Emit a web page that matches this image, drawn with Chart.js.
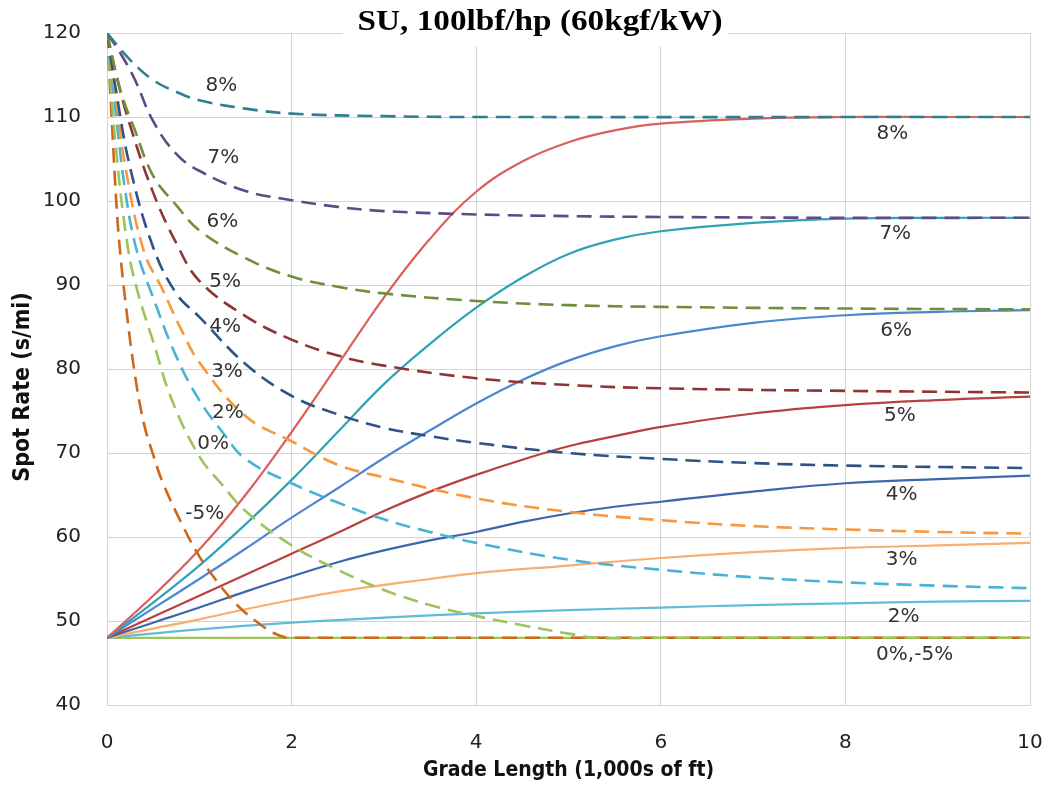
<!DOCTYPE html>
<html>
<head>
<meta charset="utf-8">
<script src="https://cdn.jsdelivr.net/npm/chart.js@4.4.1/dist/chart.umd.min.js"></script>
<style>
  html, body { margin: 0; padding: 0; background: #fff; }
  canvas { display: block; }
</style>
</head>
<body>
<canvas id="c" width="1048" height="789"></canvas>
<script>
// ---- Data (x in 1,000s of ft, y = spot rate s/mi) ----
const xTicks = [0, 2, 4, 6, 8, 10];
const yTicks = [40, 50, 60, 70, 80, 90, 100, 110, 120];

// Accelerating curves (solid) from 48 s/mi
const acc8 = [[0,48],[0.5,53],[1,58.5],[1.5,65],[2,72.5],[2.5,80.5],[3,88.5],[3.5,95.5],[4,101.1],[4.5,104.7],[5,107],[5.5,108.4],[6,109.2],[7,109.8],[8,110],[9,110],[10,110]];
const acc7 = [[0,48],[0.5,52.2],[1,56.6],[1.5,61.5],[2,66.8],[2.5,72.5],[3,78.2],[3.5,83],[4,87.3],[4.5,90.9],[5,93.7],[5.5,95.4],[6,96.4],[7,97.4],[8,97.9],[9,98],[10,98]];
const acc6 = [[0,48],[0.5,51.5],[1,55],[1.5,58.6],[2,62.3],[2.5,65.8],[3,69.4],[3.5,72.7],[4,75.9],[4.5,78.7],[5,81],[5.5,82.7],[6,83.9],[7,85.5],[8,86.4],[9,86.8],[10,87]];
const acc5 = [[0,48],[0.5,50.5],[1,53],[1.5,55.5],[2,58],[2.5,60.5],[3,63.1],[3.5,65.4],[4,67.4],[4.5,69.2],[5,70.8],[5.5,72],[6,73.1],[7,74.7],[8,75.7],[9,76.3],[10,76.7]];
const acc4 = [[0,48],[0.5,49.8],[1,51.6],[1.5,53.5],[2,55.3],[2.5,57],[3,58.4],[3.5,59.6],[4,60.6],[4.5,61.8],[5,62.8],[5.5,63.6],[6,64.2],[7,65.4],[8,66.4],[9,66.9],[10,67.3]];
const acc3 = [[0,48],[0.5,49.1],[1,50.2],[1.5,51.4],[2,52.5],[2.5,53.5],[3,54.3],[3.5,55],[4,55.7],[5,56.6],[6,57.5],[7,58.2],[8,58.7],[9,59],[10,59.3]];
const acc2 = [[0,48],[1,49],[2,49.8],[3,50.4],[4,50.9],[5,51.3],[6,51.6],[7,51.9],[8,52.1],[9,52.3],[10,52.4]];
const acc0 = [[0,48],[10,48]];

// Decelerating curves (dashed) from 120 s/mi
const dec8 = [[0,120],[0.25,116.8],[0.5,114.4],[0.75,113],[1,112],[1.5,111],[2,110.4],[3,110.1],[4,110],[10,110]];
const dec7 = [[0,120],[0.15,117.5],[0.3,114.5],[0.5,109.5],[0.75,105.6],[1,103.6],[1.5,101.2],[2,100.1],[2.5,99.3],[3,98.8],[4,98.4],[5,98.2],[6,98.1],[8,98],[10,98]];
const dec6 = [[0,120],[0.15,113],[0.3,108.5],[0.5,103],[0.75,99.5],[1,96.5],[1.5,93.2],[2,91],[2.5,89.8],[3,89],[4,88.1],[5,87.6],[6,87.4],[8,87.2],[10,87.1]];
const dec5 = [[0,120],[0.1,115],[0.25,109],[0.5,101],[0.75,95],[1,90.5],[1.5,86.3],[2,83.5],[2.5,81.6],[3,80.4],[4,78.9],[5,78.1],[6,77.7],[8,77.4],[10,77.2]];
const dec4 = [[0,120],[0.1,113],[0.25,104],[0.5,94.5],[0.75,89],[1,86.2],[1.5,80.6],[2,76.8],[2.5,74.6],[3,73],[3.5,72],[4,71.2],[5,70],[6,69.3],[7,68.8],[8,68.5],[10,68.2]];
const dec3 = [[0,120],[0.1,112],[0.2,104],[0.4,94],[0.6,89.5],[0.8,84.8],[1,80.8],[1.5,74.4],[2,71.4],[2.5,68.6],[3,67.1],[4,64.6],[5,63],[6,62],[7,61.3],[8,60.9],[9,60.6],[10,60.4]];
const dec2 = [[0,120],[0.1,110],[0.2,101],[0.32,94.2],[0.5,88.5],[0.75,81.5],[1,76.3],[1.25,72.5],[1.5,69.3],[2,66.4],[2.5,64.1],[3,62.1],[3.5,60.6],[4,59.3],[5,57.3],[6,56.1],[7,55.2],[8,54.6],[9,54.2],[10,53.9]];
const dec0 = [[0,120],[0.1,106],[0.23,94.2],[0.35,88.5],[0.5,83.3],[0.7,76.4],[1,69.6],[1.25,66.2],[1.5,63.1],[2,59],[2.5,56.1],[3,53.7],[3.5,51.9],[4,50.6],[4.5,49.5],[5,48.5],[5.3,48],[6,48],[10,48]];
const decM5 = [[0,120],[0.05,110],[0.1,100],[0.14,94.2],[0.2,88],[0.3,79.5],[0.4,73.5],[0.5,69.8],[0.6,66.6],[0.8,61.8],[1,57.7],[1.2,54.6],[1.4,52],[1.6,50.1],[1.8,48.6],[1.95,48],[2,48],[10,48]];

// Curve labels [text, x, y] in data units
const leftLabels = [["8%",1.24,113.7],["7%",1.26,105.2],["6%",1.25,97.5],["5%",1.28,90.4],["4%",1.28,85.0],["3%",1.30,79.7],["2%",1.31,74.8],["0%",1.15,71.15],["-5%",1.06,62.8]];
const rightLabels = [["8%",8.51,108.05],["7%",8.54,96.15],["6%",8.55,84.6],["5%",8.59,74.4],["4%",8.61,65.0],["3%",8.61,57.26],["2%",8.63,50.5],["0%,-5%",8.75,46.0]];

const chartTitle = "SU, 100lbf/hp (60kgf/kW)";
const xTitle = "Grade Length (1,000s of ft)";
const yTitle = "Spot Rate (s/mi)";

function pts(a) { return a.map(p => ({x: p[0], y: p[1]})); }

const solidSeries = [
  [acc8, '#DA5F5B'], [acc7, '#2FA2B3'], [acc6, '#4C86D0'], [acc5, '#B8403E'],
  [acc4, '#3C66AE'], [acc3, '#F9AE70'], [acc2, '#5DBDD8'], [acc0, '#9BC45A']
];
const dashSeries = [
  [dec8, '#2F7F90'], [dec7, '#5E4A86'], [dec6, '#6F8E3A'], [dec5, '#8E3533'],
  [dec4, '#2E5284'], [dec3, '#F7973E'], [dec2, '#48B3D5'], [dec0, '#9BC45A'], [decM5, '#CC671C']
];

const datasets = [];
dashSeries.forEach(([d, c]) => datasets.push({
  data: pts(d), borderColor: c, borderWidth: 2.6, borderDash: [15, 8],
  pointRadius: 0, fill: false, tension: 0.4, order: 0
}));
solidSeries.forEach(([d, c]) => datasets.push({
  data: pts(d), borderColor: c, borderWidth: 2.2,
  pointRadius: 0, fill: false, tension: 0.4, order: 1
}));

const overlay = {
  id: 'overlay',
  afterDraw(chart) {
    const ctx = chart.ctx;
    const xs = chart.scales.x, ys = chart.scales.y;
    ctx.save();
    ctx.fillStyle = '#333';
    ctx.font = '20px "DejaVu Sans"';
    ctx.textAlign = 'center';
    ctx.textBaseline = 'middle';
    [...leftLabels, ...rightLabels].forEach(([t, x, y]) => {
      ctx.fillText(t, xs.getPixelForValue(x), ys.getPixelForValue(y));
    });
    // title box
    ctx.fillStyle = '#fff';
    ctx.fillRect(343, 0, 385, 46);
    ctx.fillStyle = '#000';
    ctx.font = 'bold 30px "Liberation Serif"';
    const w = ctx.measureText(chartTitle).width;
    const target = 365;
    ctx.translate(540, 22);
    ctx.scale(target / w, 1);
    ctx.fillText(chartTitle, 0, 0);
    ctx.restore();
    // y title
    ctx.save();
    ctx.fillStyle = '#111';
    ctx.font = 'bold 23px "DejaVu Sans Condensed"';
    ctx.textAlign = 'center';
    ctx.textBaseline = 'middle';
    ctx.translate(23, 387);
    ctx.rotate(-Math.PI / 2);
    ctx.fillText(yTitle, 0, 0);
    ctx.restore();
  }
};

new Chart(document.getElementById('c'), {
  type: 'line',
  data: { datasets },
  options: {
    responsive: false,
    animation: false,
    devicePixelRatio: 1,
    layout: { padding: { top: 33, right: 18, bottom: 0, left: 0 } },
    plugins: { legend: { display: false }, tooltip: { enabled: false }, title: { display: false } },
    scales: {
      x: {
        type: 'linear', min: 0, max: 10,
        afterBuildTicks(s) { s.ticks = xTicks.map(v => ({value: v})); },
        afterFit(s) { s.height = 84; s.paddingLeft = 0; s.paddingRight = 0; },
        grid: { color: '#D4D4D4', lineWidth: 1, drawTicks: false },
        border: { color: '#D4D4D4' },
        ticks: { padding: 26, color: '#222', font: { family: 'DejaVu Sans', size: 20 } },
        title: { display: true, text: xTitle, color: '#111', padding: { top: 0, bottom: 6 },
                 font: { family: 'DejaVu Sans Condensed', size: 21, weight: 'bold' } }
      },
      y: {
        type: 'linear', min: 40, max: 120,
        afterBuildTicks(s) { s.ticks = yTicks.map(v => ({value: v})); },
        afterFit(s) { s.width = 107; s.paddingTop = 0; s.paddingBottom = 0; },
        grid: { color: '#D4D4D4', lineWidth: 1, drawTicks: false },
        border: { color: '#D4D4D4' },
        ticks: { padding: 26, color: '#222', font: { family: 'DejaVu Sans', size: 20 } }
      }
    }
  },
  plugins: [overlay]
});
</script>
</body>
</html>
